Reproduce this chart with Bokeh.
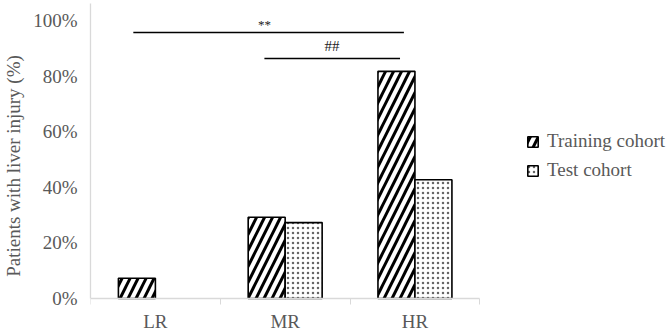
from bokeh.plotting import figure
from bokeh.models import Range1d, FixedTicker, NumeralTickFormatter, Legend, LegendItem, ColumnDataSource
from bokeh.embed import file_html
from bokeh.resources import INLINE
from bokeh.core.properties import value

# ---- data ----
categories = ["LR", "MR", "HR"]
training = [0.073, 0.292, 0.817]
test = [0.0, 0.273, 0.427]
y_ticks = [0.0, 0.2, 0.4, 0.6, 0.8, 1.0]
sig_labels = ["**", "##"]
sig_start = [0.33, 1.34]      # in category units
sig_end = [2.415, 2.385]
sig_level = [0.957, 0.863]
sig_label_x = [1.34, 1.86]
sig_label_y = [0.958, 0.879]

FONT = "Liberation Serif"
GRAY = "#595959"
AXIS = "#d9d9d9"
bar_w = 0.285

n = len(categories)
centers = [i + 0.5 for i in range(n)]
tr_src = ColumnDataSource(dict(x=[c - bar_w / 2 for c in centers], top=training))
te_x = [c + bar_w / 2 for c, v in zip(centers, test) if v > 0]
te_v = [v for v in test if v > 0]
te_src = ColumnDataSource(dict(x=te_x, top=te_v))

W, H = 671, 331
left = 89
unit_px = 130.0   # pixels per category
y_px = 278.0      # pixels per 100 %
base_px = 298.0   # baseline position from top
p = figure(width=W, height=H,
           x_range=Range1d(0, (W - left) / unit_px),
           y_range=Range1d(-(H - base_px) / y_px, base_px / y_px),
           output_backend="svg", toolbar_location=None,
           min_border_left=left, min_border_right=0, min_border_top=0, min_border_bottom=0)
p.outline_line_color = None
p.xgrid.grid_line_color = None
p.ygrid.grid_line_color = None
p.background_fill_color = "white"

r1 = p.vbar(x="x", top="top", width=bar_w, source=tr_src, fill_color="white",
            line_color="black", line_width=1.6,
            hatch_pattern="/", hatch_color="black", hatch_scale=16, hatch_weight=3)
r2 = p.vbar(x="x", top="top", width=bar_w, source=te_src, fill_color="white",
            line_color="black", line_width=1.6,
            hatch_pattern=".", hatch_color="#666666", hatch_scale=5, hatch_weight=1)

p.segment(x0=sig_start, y0=sig_level, x1=sig_end, y1=sig_level, line_color="black", line_width=1.5)
p.text(x=sig_label_x[:1], y=sig_label_y[:1], text=sig_labels[:1],
       text_font=value(FONT), text_font_size="13px", text_align="center",
       text_baseline="bottom", text_color="#222222")
p.text(x=sig_label_x[1:], y=sig_label_y[1:], text=sig_labels[1:],
       text_font=value(FONT), text_font_size="15px", text_align="center",
       text_baseline="bottom", text_color="#222222")

# x axis drawn at y = 0 inside the frame
xa = p.xaxis[0]
xa.fixed_location = 0
xa.bounds = (0, n)
xa.ticker = FixedTicker(ticks=centers, minor_ticks=list(range(n + 1)))
xa.major_label_overrides = {c: lab for c, lab in zip(centers, categories)}
xa.major_tick_line_color = None
xa.major_tick_out = 0
xa.minor_tick_in = 0
xa.minor_tick_out = 6
xa.minor_tick_line_color = AXIS
xa.axis_line_color = AXIS
xa.axis_line_width = 1.3
xa.major_label_text_font = FONT
xa.major_label_text_font_size = "19px"
xa.major_label_text_color = GRAY
xa.major_label_standoff = 6

# y axis
ya = p.yaxis[0]
ya.bounds = (0, 1.06)
ya.ticker = FixedTicker(ticks=y_ticks)
ya.formatter = NumeralTickFormatter(format="0%")
ya.major_tick_line_color = None
ya.major_tick_out = 0
ya.minor_tick_line_color = None
ya.axis_line_color = AXIS
ya.axis_line_width = 1.3
ya.major_label_text_font = FONT
ya.major_label_text_font_size = "19px"
ya.major_label_text_color = GRAY
ya.major_label_standoff = 13
ya.axis_label = "Patients with liver injury (%)"
ya.axis_label_text_font = FONT
ya.axis_label_text_font_size = "19px"
ya.axis_label_text_font_style = "normal"
ya.axis_label_text_color = GRAY
ya.axis_label_standoff = 6

legend = Legend(items=[LegendItem(label="Training cohort", renderers=[r1]),
                       LegendItem(label="Test cohort", renderers=[r2])],
                location=(436, 150), orientation="vertical")
legend.glyph_width = 13
legend.glyph_height = 13
legend.label_text_font = FONT
legend.label_text_font_size = "19px"
legend.label_text_color = GRAY
legend.label_standoff = 8
legend.spacing = 7
legend.padding = 0
legend.margin = 0
legend.border_line_color = None
legend.background_fill_alpha = 0
p.add_layout(legend, "center")

open("out.html", "w").write(file_html(p, INLINE))
